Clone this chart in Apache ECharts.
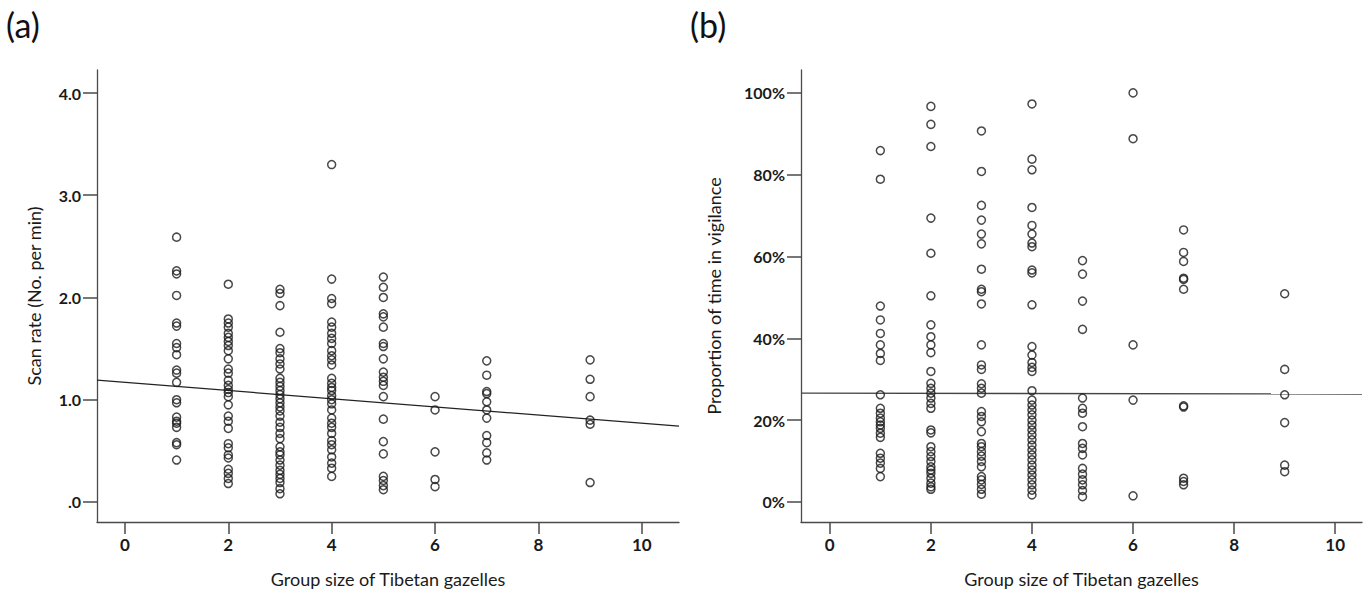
<!DOCTYPE html>
<html>
<head>
<meta charset="utf-8">
<script src="https://cdn.jsdelivr.net/npm/echarts@6/dist/echarts.min.js"></script>
<style>
    html, body { margin: 0; padding: 0; background: #fff; }
    #chart { width: 1370px; height: 595px; }
</style>
</head>
<body>
<div id="chart"></div>
<script>
// group sizes present in the data
const groupSizes = [1, 2, 3, 4, 5, 6, 7, 9];

// (a) scan rate, No. per min, one array per group size
const scanG1 = [2.59, 2.26, 2.23, 2.02, 1.75, 1.72, 1.55, 1.51, 1.44, 1.29, 1.26, 1.17, 1.00, 0.97, 0.83, 0.79, 0.77, 0.73, 0.58, 0.56, 0.41];
const scanG2 = [2.13, 1.79, 1.75, 1.71, 1.65, 1.61, 1.57, 1.53, 1.48, 1.40, 1.30, 1.26, 1.19, 1.14, 1.10, 1.07, 1.03, 0.95, 0.84, 0.79, 0.72, 0.57, 0.53, 0.46, 0.43, 0.32, 0.28, 0.23, 0.18];
const scanG3 = [2.08, 2.04, 1.92, 1.66, 1.50, 1.46, 1.40, 1.35, 1.30, 1.21, 1.17, 1.13, 1.09, 1.05, 1.01, 0.97, 0.93, 0.89, 0.84, 0.78, 0.73, 0.67, 0.62, 0.54, 0.49, 0.46, 0.41, 0.36, 0.31, 0.27, 0.23, 0.19, 0.13, 0.08];
const scanG4 = [3.30, 2.18, 1.99, 1.94, 1.76, 1.71, 1.65, 1.60, 1.55, 1.48, 1.43, 1.39, 1.34, 1.21, 1.16, 1.12, 1.09, 1.04, 1.00, 0.96, 0.90, 0.82, 0.77, 0.73, 0.67, 0.60, 0.56, 0.51, 0.44, 0.38, 0.33, 0.25];
const scanG5 = [2.20, 2.10, 2.00, 1.84, 1.81, 1.71, 1.55, 1.52, 1.40, 1.27, 1.22, 1.18, 1.14, 1.03, 0.81, 0.59, 0.47, 0.25, 0.21, 0.16, 0.12];
const scanG6 = [1.03, 0.90, 0.49, 0.22, 0.15];
const scanG7 = [1.38, 1.24, 1.08, 1.06, 0.98, 0.90, 0.82, 0.65, 0.58, 0.48, 0.41];
const scanG9 = [1.39, 1.20, 1.03, 0.80, 0.76, 0.19];

// (b) proportion of time in vigilance, %
const vigilG1 = [85.9, 78.9, 47.9, 44.5, 41.2, 38.4, 36.3, 34.6, 26.2, 22.9, 21.7, 20.5, 19.6, 18.8, 18.0, 16.8, 15.8, 11.9, 10.7, 9.5, 8.2, 6.2];
const vigilG2 = [96.7, 92.3, 86.9, 69.4, 60.8, 50.4, 43.3, 40.4, 38.4, 36.5, 31.9, 29.0, 27.8, 26.6, 25.4, 24.1, 22.9, 17.6, 16.9, 13.5, 12.3, 11.1, 9.9, 8.6, 7.8, 7.0, 5.8, 4.6, 3.7, 3.1];
const vigilG3 = [90.7, 80.8, 72.5, 68.9, 65.5, 63.1, 56.9, 52.0, 51.4, 48.4, 38.4, 33.5, 32.4, 28.9, 27.8, 26.6, 22.1, 20.9, 19.6, 17.2, 14.3, 13.5, 12.3, 11.2, 9.9, 8.6, 6.2, 5.4, 4.3, 3.1, 1.9];
const vigilG4 = [97.3, 83.8, 81.2, 72.0, 67.6, 65.5, 63.3, 62.4, 56.7, 56.0, 48.2, 38.0, 35.9, 34.1, 32.9, 31.9, 27.2, 24.9, 23.7, 22.5, 21.3, 20.0, 18.8, 17.6, 16.4, 15.2, 13.9, 12.7, 11.5, 10.3, 9.0, 7.8, 6.6, 5.4, 4.2, 2.9, 1.7];
const vigilG5 = [59.0, 55.7, 49.1, 42.2, 25.4, 22.9, 21.7, 18.4, 14.3, 13.1, 11.5, 8.2, 6.8, 5.4, 4.2, 2.8, 1.3];
const vigilG6 = [100, 88.8, 38.4, 24.9, 1.5];
const vigilG7 = [66.5, 61.0, 58.8, 54.7, 54.4, 52.0, 23.5, 23.2, 5.8, 5.0, 4.2];
const vigilG9 = [50.9, 32.4, 26.2, 19.4, 9.0, 7.4];

// fitted lines
const fitScan = { intercept: 1.17, slope: -0.040 };
const fitVigil = { intercept: 26.6, slope: -0.02 };

// tick labels
const xTicks = [0, 2, 4, 6, 8, 10];
const scanTicks = [0, 1, 2, 3, 4];
const vigilTicks = [0, 20, 40, 60, 80, 100];

const scanGroups = [scanG1, scanG2, scanG3, scanG4, scanG5, scanG6, scanG7, scanG9];
const vigilGroups = [vigilG1, vigilG2, vigilG3, vigilG4, vigilG5, vigilG6, vigilG7, vigilG9];

const toPoints = groups => groups.flatMap((vals, i) => vals.map(v => [groupSizes[i], v]));

const X_MIN_A = -0.54, X_MAX_A = 10.72;
const X_MIN_B = -0.57, X_MAX_B = 10.53;

const fitLine = (fit, x0, x1) => [
    [x0, fit.intercept + fit.slope * x0],
    [x1, fit.intercept + fit.slope * x1]
];

const FONT = 'Lato, "Open Sans", sans-serif';
const AXIS_COLOR = '#4a4a4a';

const baseX = (gridIndex, min, max) => ({
    type: 'value',
    gridIndex,
    min,
    max,
    name: 'Group size of Tibetan gazelles',
    nameLocation: 'middle',
    nameGap: 48,
    nameTextStyle: { fontFamily: FONT, fontSize: 18, color: '#1a1a1a' },
    splitLine: { show: false },
    axisLine: { onZero: false, lineStyle: { color: AXIS_COLOR, width: 1.3 } },
    axisTick: { show: true, length: 12, customValues: xTicks, lineStyle: { color: AXIS_COLOR, width: 1.5 } },
    axisLabel: { customValues: xTicks, fontFamily: FONT, fontSize: 17, fontWeight: 'bold', color: '#1a1a1a', margin: 14 }
});

const baseY = (gridIndex, min, max, name, ticks, fmt, gap) => ({
    type: 'value',
    gridIndex,
    min,
    max,
    name,
    nameLocation: 'middle',
    nameGap: gap,
    nameTextStyle: { fontFamily: FONT, fontSize: 18, color: '#1a1a1a' },
    splitLine: { show: false },
    axisLine: { show: true, onZero: false, lineStyle: { color: AXIS_COLOR, width: 1.3 } },
    axisTick: { show: true, length: 14, customValues: ticks, lineStyle: { color: AXIS_COLOR, width: 1.5 } },
    axisLabel: { customValues: ticks, formatter: fmt, fontFamily: FONT, fontSize: 16, fontWeight: 'bold', color: '#1a1a1a', margin: 16 }
});

const dotStyle = {
    type: 'scatter',
    symbol: 'circle',
    symbolSize: 8,
    itemStyle: { color: 'rgba(255,255,255,0)', borderColor: '#1a1a1a', borderWidth: 1.5 },
    emphasis: { disabled: true },
    z: 3
};

const chart = echarts.init(document.getElementById('chart'), null, { renderer: 'svg' });

const option = {
    backgroundColor: '#fff',
    animation: false,
    graphic: [
        { type: 'text', left: 6, top: 7, style: { text: '(a)', fontFamily: FONT, fontSize: 34, fill: '#111' } },
        { type: 'text', left: 690, top: 7, style: { text: '(b)', fontFamily: FONT, fontSize: 34, fill: '#111' } }
    ],
    grid: [
        { left: 97, top: 70, width: 582, height: 452 },
        { left: 801, top: 70, width: 561, height: 452 }
    ],
    xAxis: [
        baseX(0, X_MIN_A, X_MAX_A),
        baseX(1, X_MIN_B, X_MAX_B)
    ],
    yAxis: [
        baseY(0, -0.196, 4.225, 'Scan rate (No. per min)', scanTicks,
            v => (v === 0 ? '.0' : v.toFixed(1)), 54),
        baseY(1, -4.9, 105.6, 'Proportion of time in vigilance', vigilTicks,
            v => v + '%', 78)
    ],
    series: [
        Object.assign({}, dotStyle, { xAxisIndex: 0, yAxisIndex: 0, data: toPoints(scanGroups) }),
        Object.assign({}, dotStyle, { xAxisIndex: 1, yAxisIndex: 1, data: toPoints(vigilGroups) }),
        {
            type: 'line',
            xAxisIndex: 0,
            yAxisIndex: 0,
            data: fitLine(fitScan, X_MIN_A, X_MAX_A),
            symbol: 'none',
            lineStyle: { color: '#222', width: 1.3 },
            z: 2
        },
        {
            type: 'line',
            xAxisIndex: 1,
            yAxisIndex: 1,
            data: fitLine(fitVigil, X_MIN_B, X_MAX_B),
            symbol: 'none',
            lineStyle: { color: '#444', width: 1.4 },
            z: 2
        }
    ]
};

chart.setOption(option);
</script>
</body>
</html>
